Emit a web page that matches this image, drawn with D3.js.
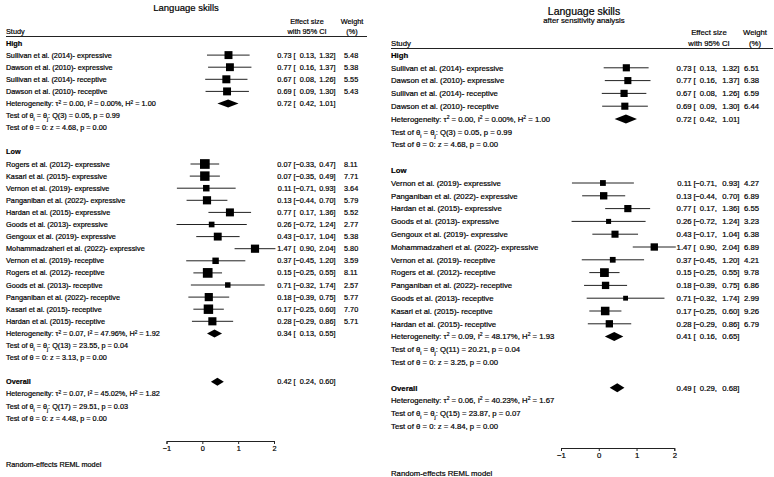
<!DOCTYPE html>
<html lang="en">
<head>
    <meta charset="UTF-8">
    <title>Language skills forest plots</title>
    <script src="https://d3js.org/d3.v7.min.js"></script>
    <style>
        body { margin: 0; background: #fff; }
        text { font-family: "Liberation Sans", Arial, sans-serif; fill: #000; stroke: #000; stroke-width: 0.2px; }
        .bold { font-weight: bold; }
    </style>
</head>
<body>
    <div id="chart"></div>

    <script>
        // ---- left panel: all studies ----
        var leftHighStudies = ["Sullivan et al. (2014)- expressive", "Dawson et al. (2010)- expressive",
            "Sullivan et al. (2014)- receptive", "Dawson et al. (2010)- receptive"];
        var leftHighEs = [0.73, 0.77, 0.67, 0.69];
        var leftHighLo = [0.13, 0.16, 0.08, 0.09];
        var leftHighHi = [1.32, 1.37, 1.26, 1.30];
        var leftHighW = [5.48, 5.38, 5.55, 5.43];
        var leftHighSum = [0.72, 0.42, 1.01];
        var leftHighHet = ["0.00", "0.00%", "1.00", "3", "0.05", "0.99", "4.68", "0.00"];

        var leftLowStudies = ["Rogers et al. (2012)- expressive", "Kasari et al. (2015)- expressive",
            "Vernon et al. (2019)- expressive", "Panganiban et al. (2022)- expressive",
            "Hardan et al. (2015)- expressive", "Goods et al. (2013)- expressive",
            "Gengoux et al. (2019)- expressive", "Mohammadzaheri et al. (2022)- expressive",
            "Vernon et al. (2019)- receptive", "Rogers et al. (2012)- receptive",
            "Goods et al. (2013)- receptive", "Panganiban et al. (2022)- receptive",
            "Kasari et al. (2015)- receptive", "Hardan et al. (2015)- receptive"];
        var leftLowEs = [0.07, 0.07, 0.11, 0.13, 0.77, 0.26, 0.43, 1.47, 0.37, 0.15, 0.71, 0.18, 0.17, 0.28];
        var leftLowLo = [-0.33, -0.35, -0.71, -0.44, 0.17, -0.72, -0.17, 0.90, -0.45, -0.25, -0.32, -0.39, -0.25, -0.29];
        var leftLowHi = [0.47, 0.49, 0.93, 0.70, 1.36, 1.24, 1.04, 2.04, 1.20, 0.55, 1.74, 0.75, 0.60, 0.86];
        var leftLowW = [8.11, 7.71, 3.64, 5.79, 5.52, 2.77, 5.38, 5.80, 3.59, 8.11, 2.57, 5.77, 7.70, 5.71];
        var leftLowSum = [0.34, 0.13, 0.55];
        var leftLowHet = ["0.07", "47.96%", "1.92", "13", "23.55", "0.04", "3.13", "0.00"];

        var leftAllSum = [0.42, 0.24, 0.60];
        var leftAllHet = ["0.07", "45.02%", "1.82", "17", "29.51", "0.03", "4.48", "0.00"];

        // ---- right panel: after sensitivity analysis ----
        var rightHighStudies = leftHighStudies;
        var rightHighEs = [0.73, 0.77, 0.67, 0.69];
        var rightHighLo = [0.13, 0.16, 0.08, 0.09];
        var rightHighHi = [1.32, 1.37, 1.26, 1.30];
        var rightHighW = [6.51, 6.38, 6.59, 6.44];
        var rightHighSum = [0.72, 0.42, 1.01];
        var rightHighHet = ["0.00", "0.00%", "1.00", "3", "0.05", "0.99", "4.68", "0.00"];

        var rightLowStudies = ["Vernon et al. (2019)- expressive", "Panganiban et al. (2022)- expressive",
            "Hardan et al. (2015)- expressive", "Goods et al. (2013)- expressive",
            "Gengoux et al. (2019)- expressive", "Mohammadzaheri et al. (2022)- expressive",
            "Vernon et al. (2019)- receptive", "Rogers et al. (2012)- receptive",
            "Panganiban et al. (2022)- receptive", "Goods et al. (2013)- receptive",
            "Kasari et al. (2015)- receptive", "Hardan et al. (2015)- receptive"];
        var rightLowEs = [0.11, 0.13, 0.77, 0.26, 0.43, 1.47, 0.37, 0.15, 0.18, 0.71, 0.17, 0.28];
        var rightLowLo = [-0.71, -0.44, 0.17, -0.72, -0.17, 0.90, -0.45, -0.25, -0.39, -0.32, -0.25, -0.29];
        var rightLowHi = [0.93, 0.70, 1.36, 1.24, 1.04, 2.04, 1.20, 0.55, 0.75, 1.74, 0.60, 0.86];
        var rightLowW = [4.27, 6.89, 6.55, 3.23, 6.38, 6.89, 4.21, 9.78, 6.86, 2.99, 9.26, 6.79];
        var rightLowSum = [0.41, 0.16, 0.65];
        var rightLowHet = ["0.09", "48.17%", "1.93", "11", "20.21", "0.04", "3.25", "0.00"];

        var rightAllSum = [0.49, 0.29, 0.68];
        var rightAllHet = ["0.06", "40.23%", "1.67", "15", "23.87", "0.07", "4.84", "0.00"];

        var xTicks = [-1, 0, 1, 2];

        var svg = d3.select("#chart").append("svg")
            .attr("width", 774)
            .attr("height", 477);

        var fmt = d3.format(".2f");

        function drawPanel(p, groups, overall) {
            var g = svg.append("g");
            var fs = p.fs;
            var x = d3.scaleLinear().domain([-1, 2]).range(p.xRange);
            var y = function (row) { return p.rowY0 + row * p.rowStep; };

            // titles
            g.append("text").attr("x", p.titleX).attr("y", p.titleY)
                .attr("text-anchor", "middle").attr("font-size", p.titleSize).text("Language skills");
            if (p.subtitle) {
                g.append("text").attr("x", p.titleX).attr("y", p.subY)
                    .attr("text-anchor", "middle").attr("font-size", fs).text(p.subtitle);
            }

            // header
            g.append("text").attr("x", p.x0).attr("y", p.head2).attr("font-size", fs).text("Study");
            g.append("text").attr("x", p.effX).attr("y", p.head1).attr("text-anchor", "middle")
                .attr("font-size", fs).text("Effect size");
            g.append("text").attr("x", p.effX).attr("y", p.head2).attr("text-anchor", "middle")
                .attr("font-size", fs).text("with 95% CI");
            g.append("text").attr("x", p.wX).attr("y", p.head1).attr("text-anchor", "middle")
                .attr("font-size", fs).text("Weight");
            g.append("text").attr("x", p.wX).attr("y", p.head2).attr("text-anchor", "middle")
                .attr("font-size", fs).text("(%)");
            g.append("line").attr("x1", p.x0).attr("x2", p.x1)
                .attr("y1", p.lineY).attr("y2", p.lineY)
                .attr("stroke", "#222").attr("stroke-width", 1);

            function label(row, str, bold) {
                return g.append("text").attr("x", p.x0).attr("y", y(row))
                    .attr("dy", "0.35em").attr("font-size", fs)
                    .attr("class", bold ? "bold" : null).text(str);
            }

            function ciText(row, es, lo, hi, w) {
                var t = [[p.estEnd, fmt(es), "end"], [p.brk, "[", "start"],
                    [p.loEnd, fmt(lo) + ",", "end"], [p.hiEnd, fmt(hi) + "]", "end"]];
                if (w != null) t.push([p.wStart, fmt(w), "start"]);
                t.forEach(function (d) {
                    g.append("text").attr("x", d[0]).attr("y", y(row)).attr("dy", "0.35em")
                        .attr("font-size", fs).attr("text-anchor", d[2]).text(d[1]);
                });
            }

            function diamond(row, s) {
                var cy = y(row), h = p.diaH / 2;
                g.append("path")
                    .attr("d", "M" + x(s[1]) + "," + cy + "L" + x(s[0]) + "," + (cy - h) +
                        "L" + x(s[2]) + "," + cy + "L" + x(s[0]) + "," + (cy + h) + "Z")
                    .attr("fill", "#000");
                ciText(row, s[0], s[1], s[2], null);
            }

            function hetLines(row, h) {
                var sub = fs * 0.65;
                var t1 = label(row, "Heterogeneity: τ");
                t1.append("tspan").attr("baseline-shift", "super").attr("font-size", sub).text("2");
                t1.append("tspan").text(" = " + h[0] + ", I");
                t1.append("tspan").attr("baseline-shift", "super").attr("font-size", sub).text("2");
                t1.append("tspan").text(" = " + h[1] + ", H");
                t1.append("tspan").attr("baseline-shift", "super").attr("font-size", sub).text("2");
                t1.append("tspan").text(" = " + h[2]);
                var t2 = label(row + 1, "Test of θ");
                t2.append("tspan").attr("baseline-shift", "sub").attr("font-size", sub).text("i");
                t2.append("tspan").text(" = θ");
                t2.append("tspan").attr("baseline-shift", "sub").attr("font-size", sub).text("j");
                t2.append("tspan").text(": Q(" + h[3] + ") = " + h[4] + ", p = " + h[5]);
                label(row + 2, "Test of θ = 0: z = " + h[6] + ", p = " + h[7]);
            }

            var row = 0;
            groups.forEach(function (grp) {
                label(row, grp.name, true);
                row++;
                grp.studies.forEach(function (s, i) {
                    var cy = y(row);
                    g.append("line").attr("x1", x(grp.lo[i])).attr("x2", x(grp.hi[i]))
                        .attr("y1", cy).attr("y2", cy).attr("stroke", "#222").attr("stroke-width", 1);
                    var sz = p.boxK * Math.sqrt(grp.w[i]);
                    g.append("rect").attr("x", x(grp.es[i]) - sz / 2).attr("y", cy - sz / 2)
                        .attr("width", sz).attr("height", sz).attr("fill", "#000");
                    label(row, s);
                    ciText(row, grp.es[i], grp.lo[i], grp.hi[i], grp.w[i]);
                    row++;
                });
                diamond(row, grp.sum);
                hetLines(row, grp.het);
                row += 4;
            });

            label(row, "Overall", true);
            diamond(row, overall.sum);
            hetLines(row + 1, overall.het);

            // x axis
            var ax = g.append("g").attr("transform", "translate(0," + p.axisY + ")")
                .call(d3.axisBottom(x).tickValues(xTicks).tickSize(3).tickFormat(d3.format("d")));
            ax.select(".domain").attr("stroke", "#222");
            ax.selectAll(".tick line").attr("stroke", "#222");
            ax.selectAll(".tick text").attr("font-size", fs).attr("dy", "0.55em")
                .attr("font-family", "Liberation Sans, Arial, sans-serif").attr("fill", "#000");

            g.append("text").attr("x", p.x0).attr("y", p.noteY).attr("font-size", fs)
                .text("Random-effects REML model");
        }

        drawPanel({
            fs: 7.3, xRange: [166.5, 274], rowY0: 43, rowStep: 12.1,
            titleX: 186, titleY: 11, titleSize: 9.5,
            x0: 6, x1: 367, head1: 23.5, head2: 33.5, lineY: 36.5,
            effX: 307, wX: 352,
            estEnd: 291.5, brk: 293.5, loEnd: 316, hiEnd: 335.5, wStart: 344,
            boxK: 3.4, diaH: 8, axisY: 441, noteY: 466.5
        }, [
            { name: "High", studies: leftHighStudies, es: leftHighEs, lo: leftHighLo, hi: leftHighHi,
              w: leftHighW, sum: leftHighSum, het: leftHighHet },
            { name: "Low", studies: leftLowStudies, es: leftLowEs, lo: leftLowLo, hi: leftLowHi,
              w: leftLowW, sum: leftLowSum, het: leftLowHet }
        ], { sum: leftAllSum, het: leftAllHet });

        drawPanel({
            fs: 7.75, xRange: [561, 674.3], rowY0: 55, rowStep: 12.8,
            titleX: 584, titleY: 15, titleSize: 10.5, subtitle: "after sensitivity analysis", subY: 23,
            x0: 391, x1: 773, head1: 35, head2: 46, lineY: 48.5,
            effX: 709, wX: 755,
            estEnd: 691.7, brk: 693.5, loEnd: 717, hiEnd: 739.5, wStart: 744,
            boxK: 2.8, diaH: 9, axisY: 448, noteY: 476
        }, [
            { name: "High", studies: rightHighStudies, es: rightHighEs, lo: rightHighLo, hi: rightHighHi,
              w: rightHighW, sum: rightHighSum, het: rightHighHet },
            { name: "Low", studies: rightLowStudies, es: rightLowEs, lo: rightLowLo, hi: rightLowHi,
              w: rightLowW, sum: rightLowSum, het: rightLowHet }
        ], { sum: rightAllSum, het: rightAllHet });
    </script>
</body>
</html>
